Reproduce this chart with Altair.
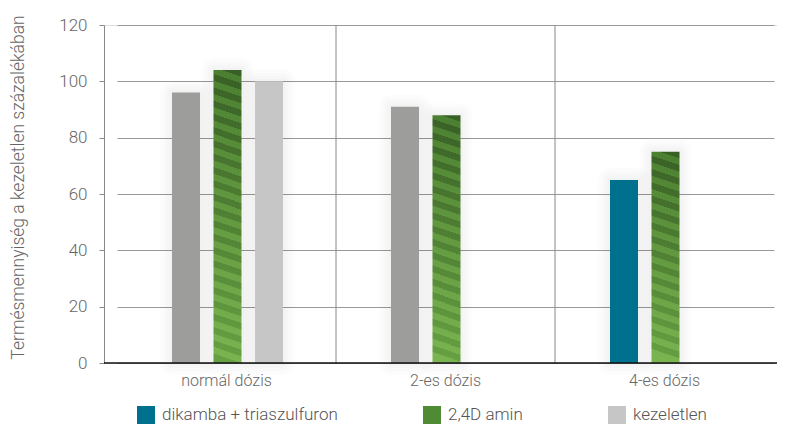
import altair as alt
import pandas as pd

# ---- data ----
doses = ["normál dózis", "2-es dózis", "4-es dózis"]
series_names = ["dikamba + triaszulfuron", "2,4D amin", "kezeletlen"]
dikamba = [96, 91, 65]
amin24d = [104, 88, 75]
kezeletlen = [100, None, None]
y_ticks = [0, 20, 40, 60, 80, 100, 120]

rows = []
for i, d in enumerate(doses):
    for s, vals in zip(series_names, [dikamba, amin24d, kezeletlen]):
        if vals[i] is not None:
            rows.append({"dose": d, "series": s, "value": vals[i]})
df = pd.DataFrame(rows)

FONT = "Roboto, sans-serif"
FW = 300
TXT = "#666666"
W, H = 673, 338
YMAX = 120
PXU = H / YMAX

BLUE = "#00708f"
GREY = "#9d9d9c"
LIGHT = "#c6c6c6"
GREEN = "#4f8a34"

x_scale = alt.Scale(domain=doses, range=[13, 670], paddingInner=0, paddingOuter=0)
xo_scale = alt.Scale(domain=series_names, range=[55, 166], paddingInner=0.325, paddingOuter=0)
y_scale = alt.Scale(domain=[0, YMAX], nice=False)
color_scale = alt.Scale(domain=series_names, range=[BLUE, GREEN, LIGHT])

x_axis = alt.Axis(title=None, domain=False, ticks=False, grid=False,
                  labelFontSize=16, labelColor=TXT, labelFont=FONT,
                  labelFontWeight=FW, labelPadding=9, labelAngle=0)
x_enc = alt.X("dose:N", scale=x_scale, sort=doses, axis=x_axis)
xo_enc = alt.XOffset("series:N", scale=xo_scale, sort=series_names)
y_enc = alt.Y("value:Q", scale=y_scale,
              axis=alt.Axis(values=y_ticks, title="Termésmennyiség a kezeletlen százalékában",
                            titleFont=FONT, titleFontSize=17.5, titleFontWeight=FW,
                            titleColor=TXT, titleX=-86, titleY=162, titleAngle=270,
                            titleAlign="center", titleBaseline="middle",
                            labelFont=FONT, labelFontSize=17, labelFontWeight=FW,
                            labelColor=TXT, labelPadding=12, tickSize=5,
                            tickColor="#888888", domainColor="#888888",
                            gridColor="#999999", gridWidth=1))

base = alt.Chart(df).encode(x=x_enc, xOffset=xo_enc, y=y_enc)

# soft glow around bars
glows = [
    base.mark_bar(fillOpacity=0, stroke="#000000", strokeOpacity=0.012,
                  strokeWidth=sw, strokeJoin="round")
    for sw in (24, 17, 11, 5)
]

solid = base.transform_filter(alt.datum.series != series_names[1]).mark_bar(opacity=1).encode(
    color=alt.condition(
        f"datum.series == '{series_names[0]}' && datum.dose != '{doses[2]}'",
        alt.value(GREY),
        alt.Color("series:N", scale=color_scale, sort=series_names,
                  legend=alt.Legend(orient="none", legendX=33, legendY=381,
                                    direction="horizontal", title=None,
                                    symbolType="square", symbolSize=324,
                                    symbolStrokeWidth=0, symbolOpacity=1,
                                    labelFont=FONT, labelFontSize=17, labelFontWeight=FW,
                                    labelColor="#555555", labelOffset=7,
                                    columnPadding=85, padding=0, labelLimit=400)),
    )
)


def lerp(c1, c2, t):
    a = [int(c1[i:i + 2], 16) for i in (1, 3, 5)]
    b = [int(c2[i:i + 2], 16) for i in (1, 3, 5)]
    return "#" + "".join(f"{round(a[k] + (b[k] - a[k]) * t):02x}" for k in range(3))


DARK_TOP, DARK_BOT = "#385f25", "#66a042"
LITE_TOP, LITE_BOT = "#4a7e30", "#7ab450"
PERIOD = 13.3
BAR_W = 28


def stripe_gradient(value):
    hpx = value * PXU
    d = -0.34 * BAR_W / hpx
    p = PERIOD / hpx
    stops = []
    k = 0
    while k * p < 1:
        a = k * p
        m = min(a + p / 2, 1)
        e = min(a + p, 1)
        stops.append(alt.GradientStop(offset=a, color=lerp(DARK_TOP, DARK_BOT, a)))
        stops.append(alt.GradientStop(offset=m, color=lerp(DARK_TOP, DARK_BOT, m)))
        if m < 1:
            stops.append(alt.GradientStop(offset=m, color=lerp(LITE_TOP, LITE_BOT, m)))
            stops.append(alt.GradientStop(offset=e, color=lerp(LITE_TOP, LITE_BOT, e)))
        k += 1
    return alt.LinearGradient(gradient="linear", stops=stops, x1=1, x2=1 + d, y1=0, y2=1)


green_layers = []
for i, d in enumerate(doses):
    v = amin24d[i]
    green_layers.append(
        base.transform_filter(
            (alt.datum.series == series_names[1]) & (alt.datum.dose == d)
        ).mark_bar(fill=stripe_gradient(v))
    )

# vertical separators between dose groups (drawn at band starts)
sep = alt.Chart(pd.DataFrame({"dose": doses[1:]})).mark_rule(color="#888888", strokeWidth=1).encode(
    x=alt.X("dose:N", scale=x_scale, sort=doses, bandPosition=0, axis=x_axis)
)

baseline = alt.Chart(pd.DataFrame({"value": [0]})).mark_rule(color="#111111", strokeWidth=1.5).encode(
    y=alt.Y("value:Q", scale=y_scale)
)

chart = alt.layer(*glows, sep, solid, *green_layers, baseline).properties(
    width=W, height=H,
    autosize=alt.AutoSizeParams(type="none"),
    padding={"left": 96, "top": 17, "right": 0, "bottom": 63},
).configure_view(stroke=None).configure(background="#ffffff")

chart.save("out.html", embed_options={"renderer": "svg", "actions": False})
